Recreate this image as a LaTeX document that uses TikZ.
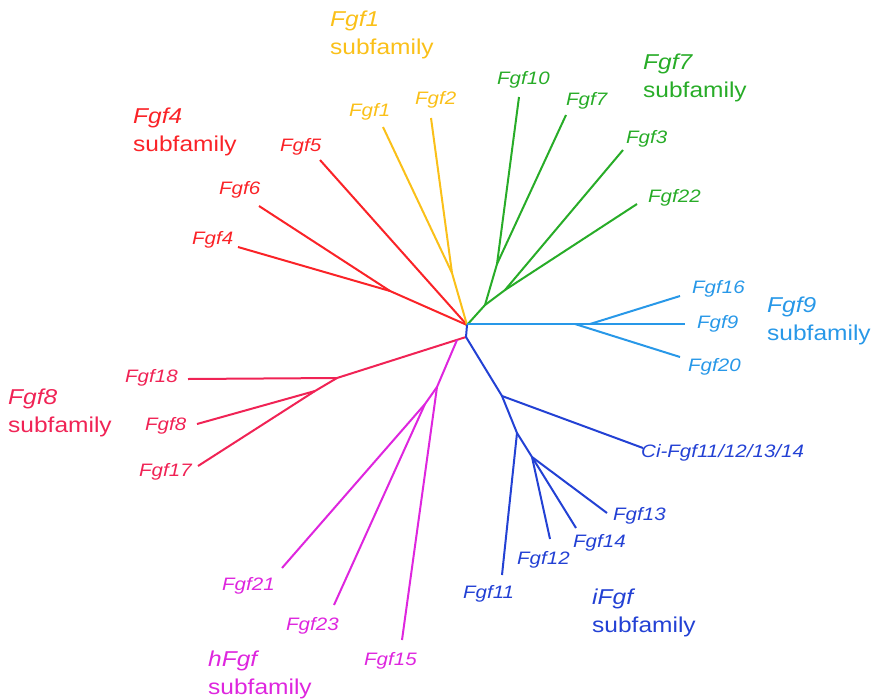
\documentclass[tikz,border=0pt]{standalone}
\usepackage{fontspec}
\setmainfont{Liberation Sans}[FakeStretch=1.14]
\definecolor{cY}{RGB}{250,192,25}
\definecolor{cR}{RGB}{250,35,40}
\definecolor{cP}{RGB}{240,35,85}
\definecolor{cG}{RGB}{40,172,40}
\definecolor{cL}{RGB}{40,152,232}
\definecolor{cD}{RGB}{35,65,212}
\definecolor{cM}{RGB}{222,38,222}
\begin{document}
\begin{tikzpicture}[x=1pt,y=-1pt,
  br/.style={line width=2pt, line join=round},
  leaf/.style={anchor=west, inner sep=0pt, yshift=-2pt, font=\fontsize{18}{20}\selectfont\itshape},
  fam/.style={anchor=west, inner sep=0pt, yshift=-2pt, align=left, font=\fontsize{21.5}{28}\selectfont}]
\useasboundingbox (0,0) rectangle (872,699);
% ---- tree coordinates
\coordinate (C) at (467,325);
\coordinate (B0) at (466,337);
% red Fgf4 subfamily
\coordinate (J46) at (390,291);
\coordinate (e4) at (238,247);
\coordinate (e6) at (259,206);
\coordinate (e5) at (320,160);
% yellow
\coordinate (Y) at (452,273);
\coordinate (e1) at (383,127);
\coordinate (e2) at (431,118);
% green
\coordinate (G0) at (485,305);
\coordinate (G1) at (497,264);
\coordinate (G2) at (505,290);
\coordinate (e10) at (519,97);
\coordinate (e7) at (566,115);
\coordinate (e3) at (623,150);
\coordinate (e22) at (637,204);
% light blue
\coordinate (L0) at (467,324);
\coordinate (L1) at (575,324);
\coordinate (L2) at (590,324);
\coordinate (e9) at (685,324);
\coordinate (e20) at (680,357);
\coordinate (e16) at (680,296);
% dark blue
\coordinate (D1) at (502,396);
\coordinate (D2) at (517,433);
\coordinate (D3) at (532,457);
\coordinate (eCi) at (643,448);
\coordinate (e11) at (502,575);
\coordinate (e12) at (550,539);
\coordinate (e14) at (576,528);
\coordinate (e13) at (607,513);
% pink Fgf8
\coordinate (P0) at (337,378);
\coordinate (P1) at (315,391);
\coordinate (e18) at (188,379);
\coordinate (e8) at (197,424);
\coordinate (e17) at (198,466);
% magenta
\coordinate (M0) at (457,340);
\coordinate (M1) at (437,387);
\coordinate (M2) at (425,404);
\coordinate (e15) at (402,640);
\coordinate (e21) at (282,568);
\coordinate (e23) at (334,605);
% ---- branches
\draw[br,cR] (e4) -- (J46) -- (C);
\draw[br,cR] (e6) -- (J46);
\draw[br,cR] (e5) -- (C);
\draw[br,cY] (e1) -- (Y) -- (C);
\draw[br,cY] (e2) -- (Y);
\draw[br,cG] (C) -- (G0) -- (G1) -- (e10);
\draw[br,cG] (G1) -- (e7);
\draw[br,cG] (G0) -- (G2) -- (e3);
\draw[br,cG] (G2) -- (e22);
\draw[br,cL] (L0) -- (e9);
\draw[br,cL] (L1) -- (e20);
\draw[br,cL] (L2) -- (e16);
\draw[br,cP] (B0) -- (P0) -- (e18);
\draw[br,cP] (P0) -- (P1) -- (e17);
\draw[br,cP] (P1) -- (e8);
\draw[br,cM] (M0) -- (M1) -- (e15);
\draw[br,cM] (M1) -- (M2) -- (e21);
\draw[br,cM] (M2) -- (e23);
\draw[br,cD] (C) -- (B0) -- (D1) -- (D2) -- (D3) -- (e12);
\draw[br,cD] (D1) -- (eCi);
\draw[br,cD] (D2) -- (e11);
\draw[br,cD] (D3) -- (e14);
\draw[br,cD] (D3) -- (e13);
% ---- leaf labels
\node[leaf,text=cY] (t1) at (349,110) {Fgf1};
\node[leaf,text=cY] (t2) at (415,98) {Fgf2};
\node[leaf,text=cR] (t5) at (280,145) {Fgf5};
\node[leaf,text=cR] (t6) at (219,188) {Fgf6};
\node[leaf,text=cR] (t4) at (192,238) {Fgf4};
\node[leaf,text=cG] (t10) at (497,78) {Fgf10};
\node[leaf,text=cG] (t7) at (566,99) {Fgf7};
\node[leaf,text=cG] (t3) at (626,137) {Fgf3};
\node[leaf,text=cG] (t22) at (648,196) {Fgf22};
\node[leaf,text=cL] (t16) at (692,287) {Fgf16};
\node[leaf,text=cL] (t9) at (697,322) {Fgf9};
\node[leaf,text=cL] (t20) at (688,365) {Fgf20};
\node[leaf,text=cD] (tCi) at (641,451) {Ci-Fgf11/12/13/14};
\node[leaf,text=cD] (t13) at (613,514) {Fgf13};
\node[leaf,text=cD] (t14) at (573,541) {Fgf14};
\node[leaf,text=cD] (t12) at (517,558) {Fgf12};
\node[leaf,text=cD] (t11) at (463,592) {Fgf11};
\node[leaf,text=cM] (t15) at (364,659) {Fgf15};
\node[leaf,text=cM] (t23) at (286,624) {Fgf23};
\node[leaf,text=cM] (t21) at (222,584) {Fgf21};
\node[leaf,text=cP] (t17) at (139,470) {Fgf17};
\node[leaf,text=cP] (t8) at (145,424) {Fgf8};
\node[leaf,text=cP] (t18) at (125,376) {Fgf18};
% ---- subfamily labels
\node[fam,text=cY] (s1) at (330,33) {\textit{Fgf1}\\subfamily};
\node[fam,text=cR] (s4) at (133,130) {\textit{Fgf4}\\subfamily};
\node[fam,text=cG] (s7) at (643,76) {\textit{Fgf7}\\subfamily};
\node[fam,text=cL] (s9) at (767,318.5) {\textit{Fgf9}\\subfamily};
\node[fam,text=cP] (s8) at (8,411) {\textit{Fgf8}\\subfamily};
\node[fam,text=cD] (si) at (592,611) {\textit{iFgf}\\subfamily};
\node[fam,text=cM] (sh) at (208,672.5) {\textit{hFgf}\\subfamily};
\end{tikzpicture}
\end{document}
